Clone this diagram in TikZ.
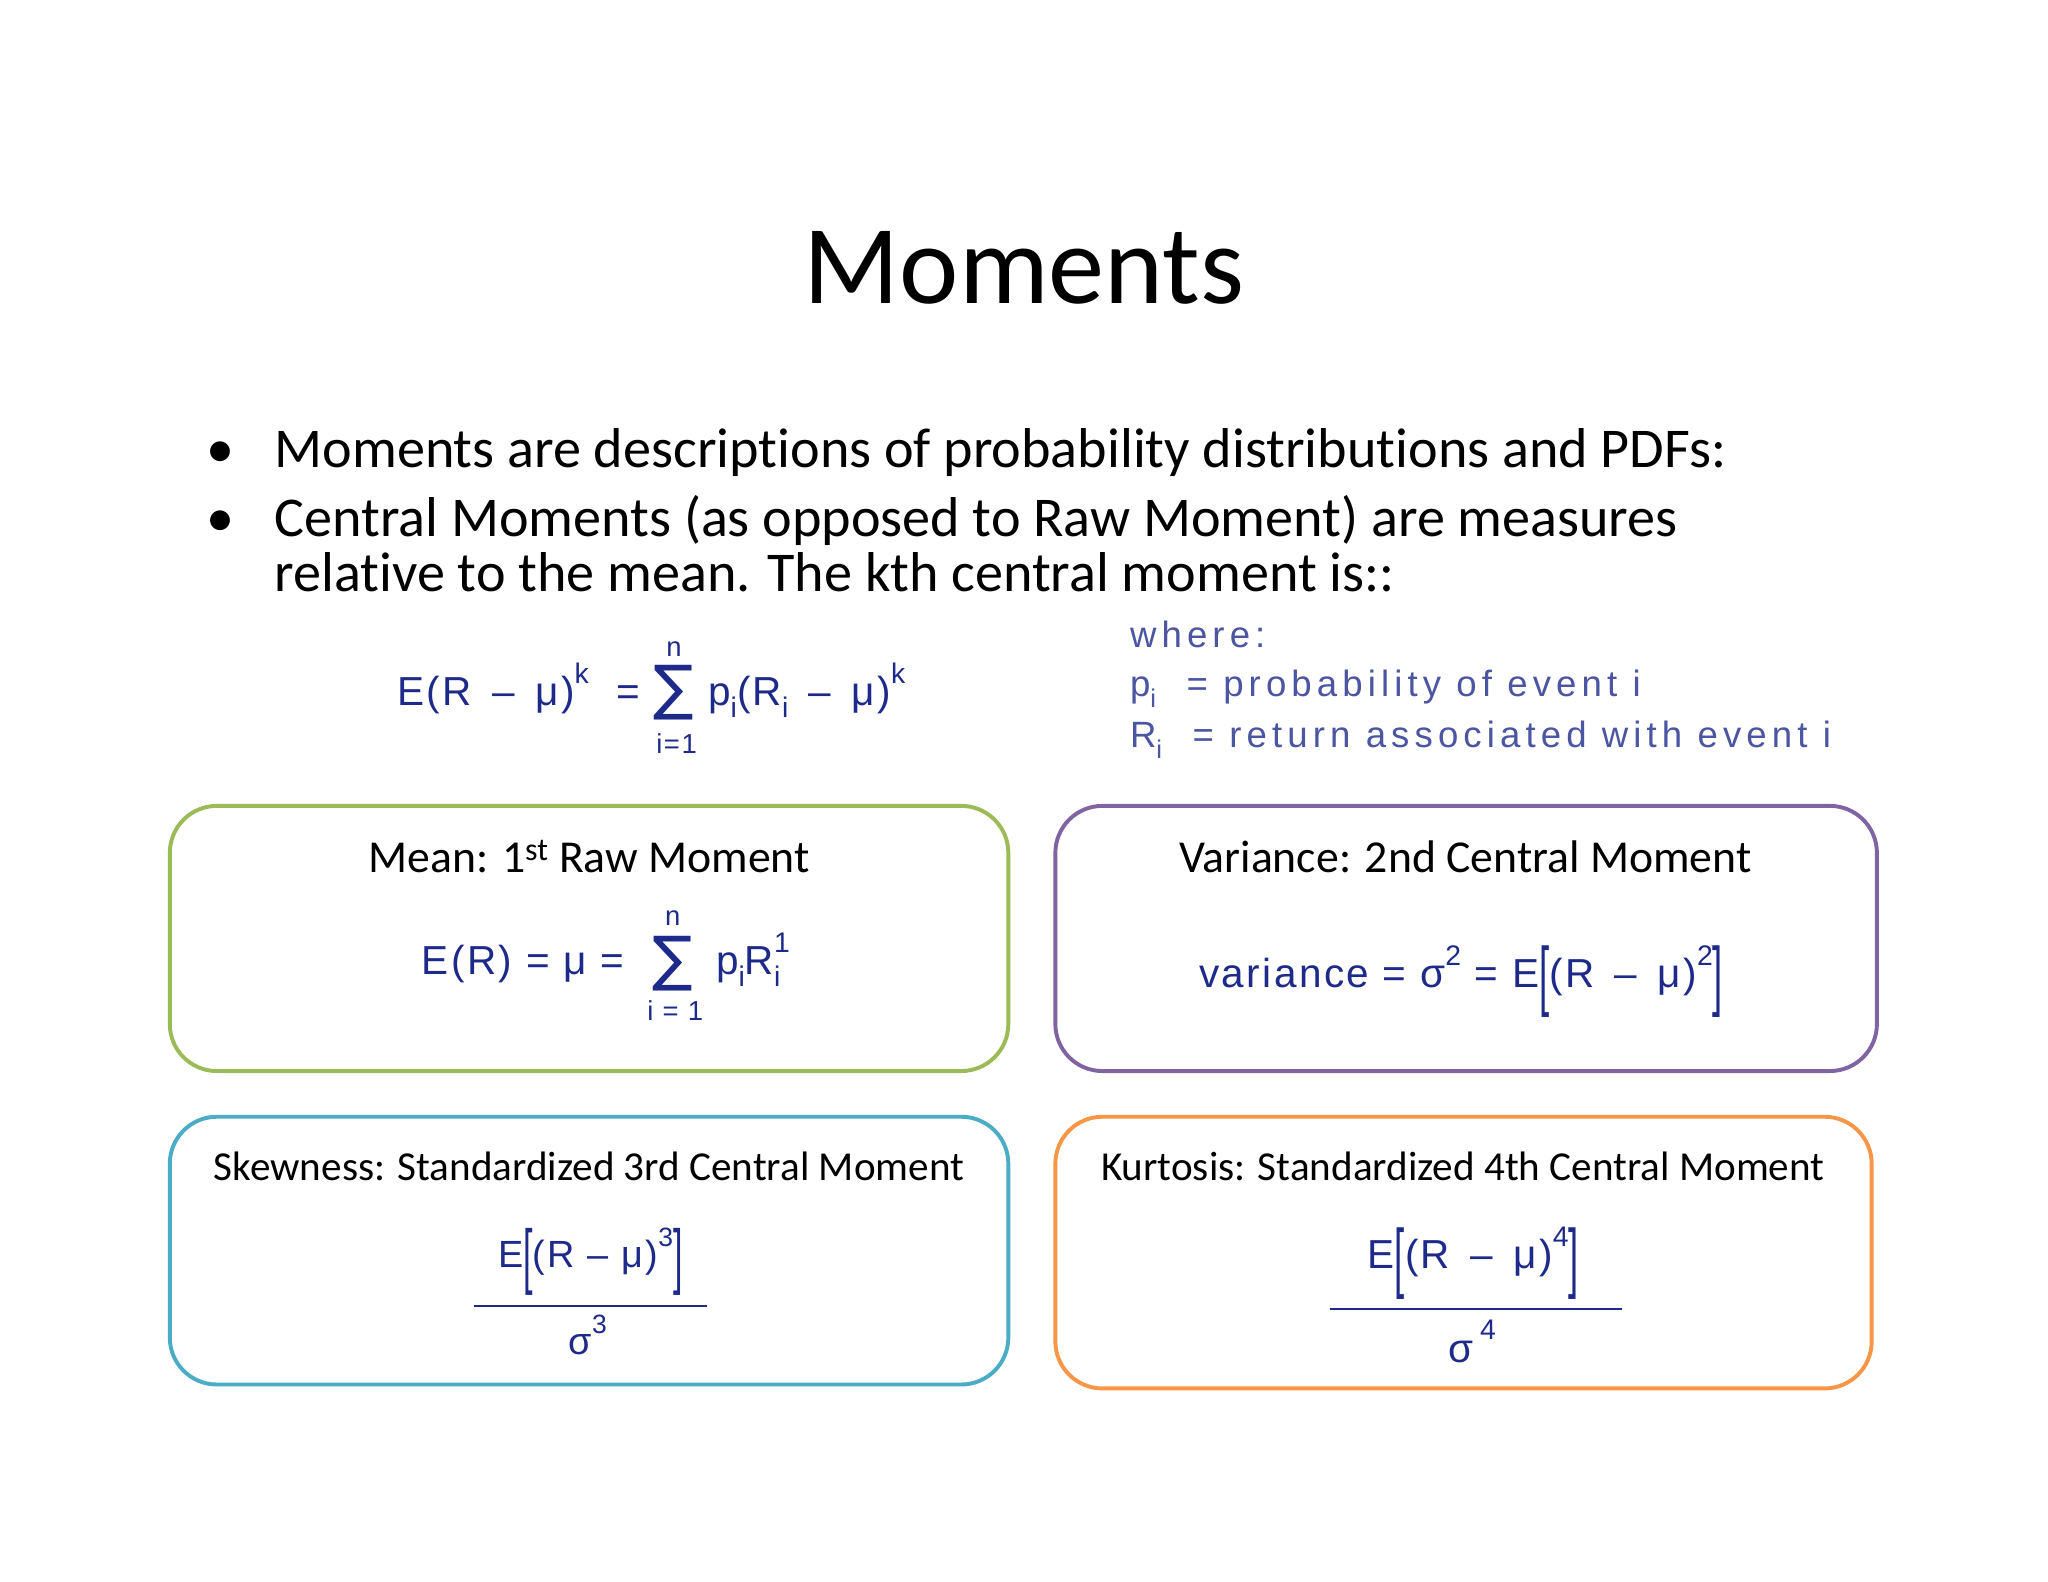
\documentclass[tikz,border=0pt]{standalone}
\usepackage{fontspec}
\setmainfont{Carlito}[Ligatures=NoCommon]
\newfontfamily\fm{Liberation Sans}[LetterSpace=6]
\newfontfamily\fw{Liberation Sans}[LetterSpace=14]
\newfontfamily\djv{DejaVu Sans}
\definecolor{fblue}{HTML}{1E2A8A}
\definecolor{gbox}{HTML}{9BBB59}
\definecolor{pbox}{HTML}{8064A2}
\definecolor{bbox}{HTML}{4BACC6}
\definecolor{obox}{HTML}{F79646}
\newcommand\sbx[1]{\raisebox{-0.3em}{\scalebox{0.7}{#1}}}
\newcommand\spx[1]{\raisebox{0.55em}{\scalebox{0.7}{#1}}}
\newcommand\bigbr[1]{\raisebox{-0.35em}{\scalebox{0.9}[1.9]{#1}}}
\begin{document}
\begin{tikzpicture}[x=1pt,y=-1pt,
  box/.style={draw,line width=3pt,rounded corners=36pt},
  ttl/.style={font=\fontsize{35}{40}\selectfont},
  body/.style={anchor=base west,font=\fontsize{43}{48}\selectfont,inner sep=0},
  fx/.style={text=fblue,font=\fm\fontsize{31}{34}\selectfont,inner sep=0},
  small/.style={text=fblue,font=\fm\fontsize{21}{24}\selectfont,inner sep=0},
  sig/.style={text=fblue,font=\djv\fontsize{46}{50}\selectfont,inner sep=0}]
\useasboundingbox[fill=white] (0,0) rectangle (1568,1211);
\node (title) at (784,205) {\fontsize{86}{96}\selectfont Moments};
\node[body] (b1) at (158,358) {\textbullet};
\node[body] (t1) at (210,358) {Moments are descriptions of probability distributions and PDFs:};
\node[body] (b2) at (158,411) {\textbullet};
\node[body] (t2) at (210,411) {Central Moments (as opposed to Raw Moment) are measures};
\node[body] (t3) at (210,453) {relative to the mean. The kth central moment is::};
% main formula
\node[fx,anchor=base east] (f1) at (490,540) {E(R \,–\, μ)\spx{k} \ =};
\node[sig] (s1) at (516,530) {∑};
\node[small] (s1n) at (516,497) {n};
\node[small] (s1i) at (518,569) {i=1};
\node[fx,anchor=base west] (f1b) at (542,540) {p\sbx{i}(R\sbx{i} \,–\, μ)\spx{k}};
\node[fx,anchor=base west,font=\fw\fontsize{28}{32}\selectfont,text=fblue!80] (w1) at (865,496) {where:};
\node[fx,anchor=base west,font=\fw\fontsize{28}{32}\selectfont,text=fblue!80] (w2) at (865,533) {p\sbx{i} \ = probability of event i};
\node[fx,anchor=base west,font=\fw\fontsize{28}{32}\selectfont,text=fblue!80] (w3) at (865,572) {R\sbx{i} \ = return associated with event i};
% boxes
\draw[box,gbox] (130,617) rectangle (772,820);
\draw[box,pbox] (808,617) rectangle (1437,820);
\draw[box,bbox] (130,855) rectangle (772,1060);
\draw[box,obox] (808,855) rectangle (1433,1063);
\node[ttl] (m1) at (451,656) {Mean: 1\textsuperscript{st} Raw Moment};
\node[ttl] (m2) at (1122,656) {Variance: 2nd Central Moment};
\node[ttl,font=\fontsize{31.5}{36}\selectfont] (m3) at (451,893) {Skewness: Standardized 3rd Central Moment};
\node[ttl,font=\fontsize{31.5}{36}\selectfont] (m4) at (1120,893) {Kurtosis: Standardized 4th Central Moment};
% mean
\node[fx,anchor=base east] (e1) at (478,746) {E(R) = μ =};
\node[sig] (s2) at (515,738) {∑};
\node[small] (s2n) at (515,703) {n};
\node[small] (s2i) at (517,774) {i = 1};
\node[fx,anchor=base west] (e1b) at (548,746) {p\sbx{i}R\rlap{\sbx{i}}\spx{1}};
% variance
\node[fx,anchor=base west] (v1) at (918,756) {variance = σ\spx{2} = E\bigbr{[}(R \,–\, μ)\spx{2}\bigbr{]}};
% skewness
\node[fx,font=\fm\fontsize{29}{32}\selectfont] (k1) at (452,966) {E\bigbr{[}(R – μ)\spx{3}\bigbr{]}};
\draw[fblue,line width=1.5pt] (363,1000) -- (541,1000);
\node[fx,font=\fm\fontsize{29}{32}\selectfont] (k1d) at (450,1022) {σ\spx{3}};
% kurtosis
\node[fx,font=\fm\fontsize{31}{34}\selectfont] (k2) at (1128,967) {E\bigbr{[}(R \,–\, μ)\spx{4}\bigbr{]}};
\draw[fblue,line width=1.5pt] (1018,1002) -- (1242,1002);
\node[fx,font=\fm\fontsize{31}{34}\selectfont] (k2d) at (1127,1027) {σ\,\spx{4}};
\end{tikzpicture}
\end{document}
